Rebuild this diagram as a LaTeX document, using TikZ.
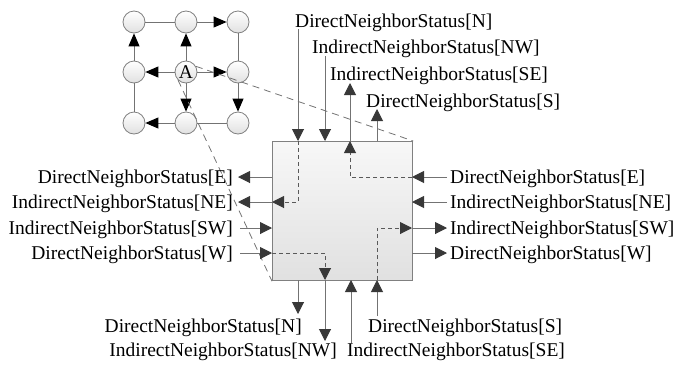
\documentclass[tikz,border=0pt]{standalone}
\usepackage{fontspec}
\setmainfont{Liberation Serif}
\usetikzlibrary{arrows.meta}

\begin{document}
\begin{tikzpicture}[x=1pt,y=-1pt,
  lbl/.style={font=\fontsize{19.5}{22}\selectfont, inner sep=0pt},
  wire/.style={draw=black!55, line width=1pt,
    -{Triangle[length=12pt,width=12pt,color=black!78]}},
  innerwire/.style={draw=black!65, line width=1pt, dash pattern=on 4pt off 3pt,
    -{Triangle[length=12pt,width=12pt,color=black!78]}},
  cell/.style={circle, draw=black!50, line width=0.8pt, minimum size=22pt,
    inner sep=0pt, top color=white, bottom color=black!12,
    font=\fontsize{19.5}{20}\selectfont},
  link/.style={draw=black!55, line width=1pt},
  dirlink/.style={link, -{Triangle[length=13pt,width=11pt,color=black]}},
  zoomline/.style={draw=black!55, line width=0.8pt, dash pattern=on 7pt off 5pt},
  unit/.style={draw=black!50, line width=1.2pt, top color=black!3,
    bottom color=black!12, minimum width=140pt, minimum height=139pt,
    inner sep=0pt}
]
\useasboundingbox (0,0) rectangle (676,365);

% ---------- neighbourhood grid ----------
\node[cell] (g11) at (134,22) {};
\node[cell] (g12) at (186,22) {};
\node[cell] (g13) at (238,22) {};
\node[cell] (g21) at (134,72) {};
\node[cell] (g22) at (186,72) {A};
\node[cell] (g23) at (238,72) {};
\node[cell] (g31) at (134,123) {};
\node[cell] (g32) at (186,123) {};
\node[cell] (g33) at (238,123) {};

\draw[link] (g11) -- (g12);
\draw[dirlink] (g12) -- (g13);
\draw[link] (g13) -- (g23);
\draw[dirlink] (g23) -- (g33);
\draw[link] (g33) -- (g32);
\draw[dirlink] (g32) -- (g31);
\draw[link] (g31) -- (g21);
\draw[dirlink] (g21) -- (g11);
\draw[dirlink] (g22) -- (g21);
\draw[dirlink] (g22) -- (g23);
\draw[dirlink] (g22) -- (g12);
\draw[dirlink] (g22) -- (g32);

% ---------- cell unit ----------
\node[unit, anchor=north west] (box) at (272,141) {};

\draw[zoomline] (g22.30) -- (box.north east);
\draw[zoomline] (g22.226) -- (box.south west);

% ports on the unit border
\coordinate (pTN)  at (298,141);
\coordinate (pTNW) at (325,141);
\coordinate (pTSE) at (350,141);
\coordinate (pTS)  at (377,141);
\coordinate (pBN)  at (298,280);
\coordinate (pBNW) at (325,280);
\coordinate (pBSE) at (351,280);
\coordinate (pBS)  at (377,280);
\coordinate (pLE)  at (272,177);
\coordinate (pLNE) at (272,202);
\coordinate (pLSW) at (272,228);
\coordinate (pLW)  at (272,253);
\coordinate (pRE)  at (412,177);
\coordinate (pRNE) at (412,202);
\coordinate (pRSW) at (412,228);
\coordinate (pRW)  at (412,253);

% ---------- top labels ----------
\node[lbl, anchor=base west] (tN)  at (295,27)  {DirectNeighborStatus[N]};
\node[lbl, anchor=base west] (tNW) at (312,53)  {IndirectNeighborStatus[NW]};
\node[lbl, anchor=base west] (tSE) at (330,80)  {IndirectNeighborStatus[SE]};
\node[lbl, anchor=base west] (tS)  at (366,107) {DirectNeighborStatus[S]};

\draw[wire] (pTN |- 0,29) -- (pTN);
\draw[wire] (pTNW |- 0,56) -- (pTNW);
\draw[wire] (pTSE) -- (pTSE |- 0,83);
\draw[wire] (pTS) -- (pTS |- 0,109);

% ---------- left labels ----------
\node[lbl, anchor=base east] (lE)  at (233,183.5) {DirectNeighborStatus[E]};
\node[lbl, anchor=base east] (lNE) at (233,208.5) {IndirectNeighborStatus[NE]};
\node[lbl, anchor=base east] (lSW) at (233,234.5) {IndirectNeighborStatus[SW]};
\node[lbl, anchor=base east] (lW)  at (233,259.5) {DirectNeighborStatus[W]};

\draw[wire] (pLE) -- (238,177);
\draw[wire] (pLNE) -- (238,202);
\draw[wire] (240,228) -- (pLSW);
\draw[wire] (240,253) -- (pLW);

% ---------- right labels ----------
\node[lbl, anchor=base west] (rE)  at (450,183.5) {DirectNeighborStatus[E]};
\node[lbl, anchor=base west] (rNE) at (450,208.5) {IndirectNeighborStatus[NE]};
\node[lbl, anchor=base west] (rSW) at (450,234.5) {IndirectNeighborStatus[SW]};
\node[lbl, anchor=base west] (rW)  at (450,259.5) {DirectNeighborStatus[W]};

\draw[wire] (447,177) -- (pRE);
\draw[wire] (447,202) -- (pRNE);
\draw[wire] (pRSW) -- (447,228);
\draw[wire] (pRW) -- (447,253);

% ---------- bottom labels ----------
\node[lbl, anchor=base east] (bN)  at (302,332) {DirectNeighborStatus[N]};
\node[lbl, anchor=base east] (bNW) at (337,356) {IndirectNeighborStatus[NW]};
\node[lbl, anchor=base west] (bS)  at (368,332) {DirectNeighborStatus[S]};
\node[lbl, anchor=base west] (bSE) at (347,356) {IndirectNeighborStatus[SE]};

\draw[wire] (pBN) -- (pBN |- 0,314);
\draw[wire] (pBNW) -- (pBNW |- 0,341);
\draw[wire] (pBSE |- 0,343) -- (pBSE);
\draw[wire] (pBS |- 0,316) -- (pBS);

% ---------- internal routing ----------
\draw[innerwire] (pTN) |- (pLNE);
\draw[innerwire] (pRE) -| (pTSE);
\draw[innerwire] (pBS) |- (pRSW);
\draw[innerwire] (pLW) -| (pBNW);
\end{tikzpicture}
\end{document}
